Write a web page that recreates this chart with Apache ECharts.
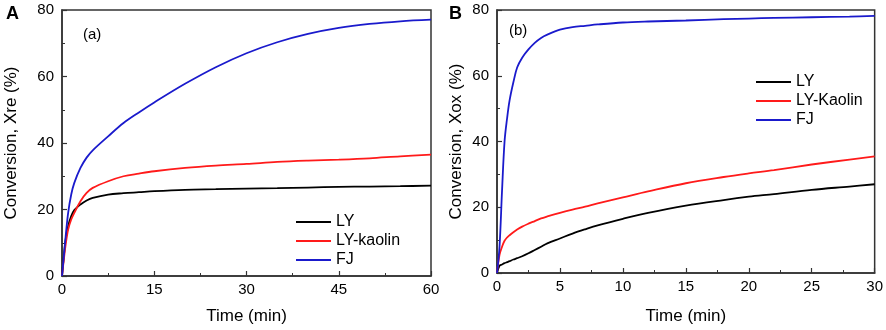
<!DOCTYPE html>
<html>
<head>
<meta charset="utf-8">
<script src="https://cdn.jsdelivr.net/npm/echarts@6/dist/echarts.min.js"></script>
<style>
  html, body { margin: 0; padding: 0; background: #fff; }
  #chart { width: 886px; height: 330px; }
</style>
</head>
<body>
<div id="chart"></div>
<script>
// panel A: reduction, 0-60 min
var timeA = [0, 0.3, 0.6, 1, 1.5, 2, 3, 4, 5, 7.5, 10, 12.5, 15, 20, 25, 30, 35, 40, 45, 50, 55, 60]
var lyA = [0, 6, 11, 15, 18, 19.8, 21.5, 22.7, 23.5, 24.5, 24.9, 25.2, 25.5, 25.9, 26.1, 26.3, 26.4, 26.6, 26.8, 26.9, 27, 27.2]
var kaolinA = [0, 5, 9.5, 14, 17, 19, 22.5, 25, 26.5, 28.5, 30, 30.8, 31.5, 32.5, 33.2, 33.7, 34.3, 34.7, 35, 35.4, 36, 36.5]
var fjA = [0, 6, 12, 19, 24.5, 28, 32.5, 35.6, 37.8, 42, 46, 49.2, 52.2, 57.8, 62.8, 67, 70.3, 72.8, 74.6, 75.8, 76.6, 77.1]

// panel B: oxidation, 0-30 min
var timeB = [0, 0.2, 0.4, 0.6, 0.8, 1, 1.3, 1.6, 2, 2.5, 3, 3.5, 4, 5, 6, 7, 8, 10, 12, 15, 18, 20, 22, 25, 28, 30]
var lyB = [0, 2.2, 2.6, 3, 3.3, 3.6, 4.1, 4.5, 5.1, 6, 7, 8, 9, 10.5, 12, 13.3, 14.5, 16.5, 18.3, 20.5, 22.2, 23.2, 24, 25.3, 26.3, 27]
var kaolinB = [0, 5.5, 8, 9.8, 10.8, 11.5, 12.4, 13.2, 14.1, 15, 15.8, 16.6, 17.2, 18.3, 19.3, 20.2, 21.2, 23, 24.8, 27.3, 29.2, 30.3, 31.3, 33, 34.5, 35.5]
var fjB = [0, 8, 25, 40, 47, 52.5, 58, 62.5, 65.5, 68, 70, 71.5, 72.5, 74, 74.8, 75.2, 75.6, 76.2, 76.5, 76.8, 77.2, 77.4, 77.6, 77.8, 78, 78.2]

var namesA = ['LY', 'LY-kaolin', 'FJ']
var namesB = ['LY', 'LY-Kaolin', 'FJ']
var colors = ['#000000', '#ff1a1a', '#1a1acc']

var chart = echarts.init(document.getElementById('chart'))

function pairs(xs, ys) {
  return xs.map(function (x, i) { return [x, ys[i]] })
}

var fontFamily = '"Liberation Sans", Arial, sans-serif'

function xAxisOf(idx, max, interval, gap) {
  return {
    gridIndex: idx,
    type: 'value',
    min: 0,
    max: max,
    interval: interval,
    name: 'Time (min)',
    nameLocation: 'middle',
    nameGap: gap,
    nameTextStyle: { color: '#000', fontSize: 17, fontFamily: fontFamily },
    axisLine: { show: true, lineStyle: { color: '#333', width: 1.5 } },
    axisTick: { show: true, inside: true, length: 5, lineStyle: { color: '#333', width: 1.2 } },
    minorTick: { show: true, splitNumber: 2, length: 3, lineStyle: { color: '#333' } },
    axisLabel: { color: '#000', fontSize: 15, fontFamily: fontFamily, margin: 6 },
    splitLine: { show: false }
  }
}

function yAxisOf(idx, name, gap) {
  return {
    gridIndex: idx,
    type: 'value',
    min: 0,
    max: 80,
    interval: 20,
    name: name,
    nameLocation: 'middle',
    nameGap: gap,
    nameTextStyle: { color: '#000', fontSize: 17, fontFamily: fontFamily },
    axisLine: { show: true, lineStyle: { color: '#333', width: 1.5 } },
    axisTick: { show: true, inside: true, length: 5, lineStyle: { color: '#333', width: 1.2 } },
    minorTick: { show: true, splitNumber: 2, length: 3, lineStyle: { color: '#333' } },
    axisLabel: { color: '#000', fontSize: 15, fontFamily: fontFamily, margin: 8 },
    splitLine: { show: false }
  }
}

function lineOf(name, idx, xs, ys, color) {
  return {
    name: name,
    type: 'line',
    xAxisIndex: idx,
    yAxisIndex: idx,
    data: pairs(xs, ys),
    symbol: 'none',
    smooth: 0.35,
    lineStyle: { color: color, width: 1.8 },
    itemStyle: { color: color }
  }
}

function legendOf(names, left, top) {
  return {
    data: names,
    orient: 'vertical',
    left: left,
    top: top,
    padding: 0,
    icon: 'rect',
    itemWidth: 35,
    itemHeight: 2,
    itemGap: 3,
    textStyle: { color: '#000', fontSize: 16, fontFamily: fontFamily, lineHeight: 14 }
  }
}

chart.setOption({
  animation: false,
  color: colors,
  grid: [
    { left: 62, top: 10, width: 369, height: 267, show: true, borderColor: '#333', borderWidth: 1.5 },
    { left: 497, top: 10, width: 378, height: 268, show: true, borderColor: '#333', borderWidth: 1.5 }
  ],
  xAxis: [xAxisOf(0, 60, 15, 32), xAxisOf(1, 30, 5, 35)],
  yAxis: [yAxisOf(0, 'Conversion, Xre (%)', 42), yAxisOf(1, 'Conversion, Xox (%)', 32)],
  legend: [legendOf(namesA, 296, 214), legendOf(namesB, 756, 74)],
  graphic: [
    { type: 'text', left: 6, top: 5, style: { text: 'A', font: 'bold 18px ' + fontFamily, fill: '#000' } },
    { type: 'text', left: 449, top: 5, style: { text: 'B', font: 'bold 18px ' + fontFamily, fill: '#000' } },
    { type: 'text', left: 83, top: 27, style: { text: '(a)', font: '15px ' + fontFamily, fill: '#000' } },
    { type: 'text', left: 509, top: 23, style: { text: '(b)', font: '15px ' + fontFamily, fill: '#000' } }
  ],
  series: [
    lineOf(namesA[0], 0, timeA, lyA, colors[0]),
    lineOf(namesA[1], 0, timeA, kaolinA, colors[1]),
    lineOf(namesA[2], 0, timeA, fjA, colors[2]),
    lineOf(namesB[0], 1, timeB, lyB, colors[0]),
    lineOf(namesB[1], 1, timeB, kaolinB, colors[1]),
    lineOf(namesB[2], 1, timeB, fjB, colors[2])
  ]
})
</script>
</body>
</html>
